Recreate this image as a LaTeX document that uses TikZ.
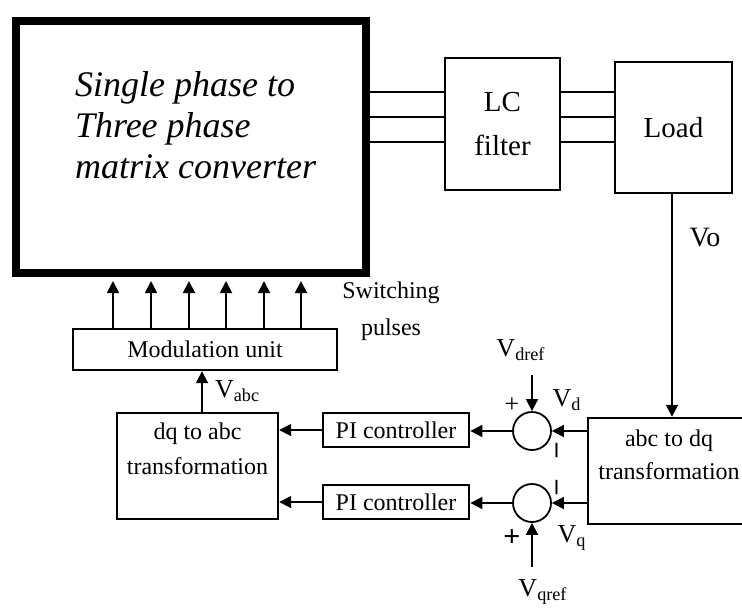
\documentclass[tikz,border=0pt]{standalone}
\usepackage{fontspec}
\setmainfont{Liberation Serif}
\usetikzlibrary{arrows.meta,calc}

\begin{document}
\begin{tikzpicture}[x=0.5pt,y=-0.5pt,
    blk/.style={draw, line width=1.2pt, inner sep=0pt},
    arr/.style={line width=0.9pt, -{Triangle[length=6pt,width=6pt]}},
    wire/.style={line width=1.3pt},
    txt/.style={font=\fontsize{12}{18}\selectfont, align=center},
    sig/.style={font=\fontsize{13}{15}\selectfont},
    sum/.style={draw, circle, line width=0.9pt, minimum size=19pt, inner sep=0pt}]

    \useasboundingbox (0,0) rectangle (742,610);

    % Convertidor, filtre i carrega
    \node[draw, line width=4pt, minimum width=175pt, minimum height=126pt] (conv) at (191,147) {};
    \node[anchor=west, align=left, font=\fontsize{18}{20.5}\selectfont\itshape] (convtxt) at (68,125) {Single phase to\\Three phase\\matrix converter};
    \node[blk, align=center, font=\fontsize{14.5}{22}\selectfont, minimum width=57.5pt, minimum height=66pt] (lc) at (502.5,124) {LC\\filter};
    \node[blk, font=\fontsize{14.5}{17.5}\selectfont, minimum width=58.5pt, minimum height=65.5pt] (load) at (673.5,127.5) {Load};
    \foreach \y in {92,117,142} {
        \draw[wire] (conv.east |- 0,\y) -- (lc.west |- 0,\y);
        \draw[wire] (lc.east |- 0,\y) -- (load.west |- 0,\y);
    }

    % Modulacio
    \node[blk, txt, minimum width=132pt, minimum height=20.5pt] (mod) at (205,349.5) {Modulation unit};
    \foreach \x in {113,151,189,226,264,301}
        \draw[arr, shorten >=2pt] (mod.north -| \x,0) -- (conv.south -| \x,0);
    \node[txt, font=\fontsize{12}{18.5}\selectfont] (sw) at (391,311) {Switching\\pulses};

    % Transformacions
    \node[blk, minimum width=80.5pt, minimum height=53pt] (dq) at (197.5,466) {};
    \node[txt, anchor=north, font=\fontsize{12}{17.5}\selectfont] (dqtxt) at ([yshift=-2pt]dq.north) {dq to abc\\transformation};
    \node[blk, minimum width=81pt, minimum height=53pt] (abc) at (669,471) {};
    \node[txt, anchor=north, font=\fontsize{12}{16.5}\selectfont] (abctxt) at ([yshift=-3pt]abc.north) {abc to dq\\transformation};
    \draw[arr] (dq.north -| 202,0) -- (mod.south -| 202,0);
    \node[sig, anchor=west] (vabc) at (208,391) {V\textsubscript{abc}};
    \draw[arr] (load.south -| 672,0) -- (abc.north -| 672,0);
    \node[sig, font=\fontsize{14}{16}\selectfont] (vo) at (705,238) {Vo};

    % Llaços de control
    \node[sum] (sd) at (532,431) {};
    \node[sum] (sq) at (532,503) {};
    \node[blk, txt, line width=1.4pt, minimum width=73pt, minimum height=17pt] (pid) at (396,430) {PI controller};
    \node[blk, txt, line width=1.4pt, minimum width=73pt, minimum height=17pt] (piq) at (396,502) {PI controller};
    \draw[arr] (abc.west |- sd) -- (sd);
    \draw[arr] (abc.west |- sq) -- (sq);
    \draw[arr] (sd) -- (sd -| pid.east);
    \draw[arr] (sq) -- (sq -| piq.east);
    \draw[arr] (pid.west) -- (dq.east |- pid.west);
    \draw[arr] (piq.west) -- (dq.east |- piq.west);

    % Referencies
    \coordinate (drefin) at (532,375);
    \coordinate (qrefin) at (532,567);
    \draw[arr] (drefin) -- (sd.north);
    \draw[arr] (qrefin) -- (sq.south);
    \node[sig] (vdref) at (521,350) {V\textsubscript{dref}};
    \node[sig] (vqref) at (543,592) {V\textsubscript{qref}};
    \node[sig] (vd) at (567,400) {V\textsubscript{d}};
    \node[sig] (vq) at (572,538) {V\textsubscript{q}};
    \node[sig] (pd) at (512,405) {+};
    \node[sig, font=\fontsize{15}{16}\selectfont\bfseries] (pq) at (512,538) {+};
    \node[sig, rotate=90, font=\fontsize{14}{16}\selectfont\bfseries] (md) at (560,450) {–};
    \node[sig, rotate=90, font=\fontsize{14}{16}\selectfont\bfseries] (mq) at (560,487) {–};
\end{tikzpicture}
\end{document}
